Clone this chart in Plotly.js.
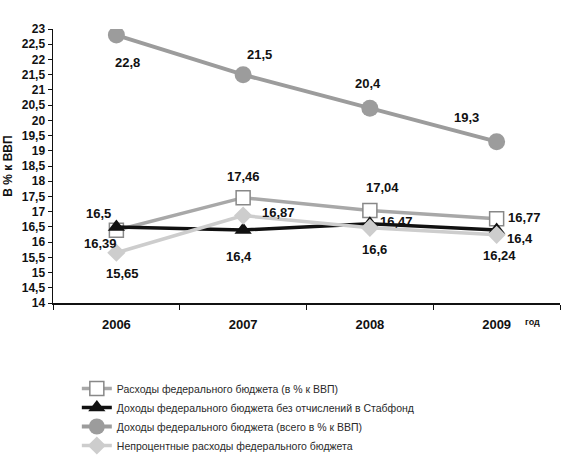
<!DOCTYPE html>
<html><head><meta charset="utf-8">
<script src="https://cdn.plot.ly/plotly-3.0.1.min.js"></script>
<style>body{margin:0;background:#fff}#c{width:576px;height:456px}</style>
</head><body><div id="c"></div>
<script>
const years = ['2006','2007','2008','2009'];
const rashody = [16.39, 17.46, 17.04, 16.77];
const dohodyBez = [16.5, 16.4, 16.6, 16.4];
const dohodyVsego = [22.8, 21.5, 20.4, 19.3];
const neprocent = [15.65, 16.87, 16.47, 16.24];
const names = [
  'Расходы федерального бюджета (в % к ВВП)',
  'Доходы федерального бюджета без отчислений в Стабфонд',
  'Доходы федерального бюджета (всего в % к ВВП)',
  'Непроцентные расходы федерального бюджета'
];

// label offsets (px) per series/point: [xshift, yshift]
const offs = {
  rashody: [[-16,-13],[0,21],[13,23],[28,1]],
  dohodyBez: [[-18,13],[-4,-27],[5,-26],[23,-9]],
  dohodyVsego: [[11,-27],[16,20],[-2,25],[-30,24]],
  neprocent: [[6,-21],[35,3],[27,6],[3,-21]]
};

const FF = 'Liberation Sans, Arial, sans-serif';
const traces = [
  {x: years, y: rashody, name: names[0], mode: 'lines+markers',
   line: {color: '#a8a8a8', width: 3.5},
   marker: {symbol: 'square', size: 14, color: '#ffffff', line: {color: '#888', width: 1.5}}},
  {x: years, y: dohodyBez, name: names[1], mode: 'lines+markers',
   line: {color: '#111111', width: 3.5},
   marker: {symbol: 'triangle-up', size: 15, color: '#111111'}},
  {x: years, y: dohodyVsego, name: names[2], mode: 'lines+markers',
   line: {color: '#9c9c9c', width: 4},
   marker: {symbol: 'circle', size: 17, color: '#9c9c9c'}},
  {x: years, y: neprocent, name: names[3], mode: 'lines+markers',
   line: {color: '#cdcdcd', width: 3.5},
   marker: {symbol: 'diamond', size: 14, color: '#cdcdcd'}}
];

const fmt = v => String(v).replace('.', ',');
const annotations = [];
[['rashody', rashody], ['dohodyBez', dohodyBez], ['dohodyVsego', dohodyVsego], ['neprocent', neprocent]].forEach(([k, arr]) => {
  arr.forEach((v, i) => {
    annotations.push({x: i, y: v, xref: 'x', yref: 'y', text: fmt(v), showarrow: false,
      xshift: offs[k][i][0], yshift: offs[k][i][1],
      font: {family: FF, size: 13, color: '#111', weight: 'bold'}});
  });
});
annotations.push({xref: 'paper', yref: 'paper', x: 0.964, y: -0.069, yanchor: 'middle', text: 'год', showarrow: false,
  font: {family: FF, size: 9, color: '#111', weight: 'bold'}});

const layout = {
  width: 576, height: 456,
  margin: {l: 53, r: 16, t: 29, b: 153},
  paper_bgcolor: '#fff', plot_bgcolor: '#fff',
  separators: ',.',
  showlegend: true,
  font: {family: FF, color: '#111'},
  xaxis: {type: 'category', range: [-0.5, 3.5], showgrid: false, zeroline: false,
    showline: true, linecolor: '#111', linewidth: 1.5, ticks: 'outside', tickson: 'boundaries',
    ticklen: 5, tickcolor: '#111', ticklabelstandoff: 9,
    tickfont: {family: FF, size: 13, weight: 'bold', color: '#111'}},
  yaxis: {range: [14, 23], tick0: 14, dtick: 0.5, showgrid: false, zeroline: false,
    showline: true, linecolor: '#111', linewidth: 1.5, ticks: 'outside', ticklen: 4, tickcolor: '#111',
    tickfont: {family: FF, size: 12, weight: 'bold', color: '#111'},
    title: {text: 'В % к ВВП', standoff: 6, font: {family: FF, size: 12, weight: 'bold', color: '#111'}}},
  legend: {x: 0.047, y: 1 - 374 / 456, xref: 'paper', yref: 'container', xanchor: 'left', yanchor: 'top', orientation: 'v',
    font: {family: FF, size: 10.5, color: '#2a2a2a'}, bgcolor: 'rgba(0,0,0,0)', itemwidth: 30},
  annotations: annotations
};
Plotly.newPlot('c', traces, layout, {displayModeBar: false, staticPlot: true});
</script></body></html>
